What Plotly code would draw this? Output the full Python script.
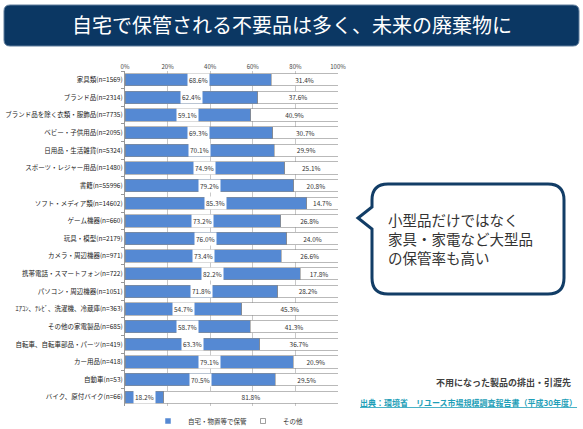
import plotly.graph_objects as go

categories = [
    "家具類(n=1569)", "ブランド品(n=2314)", "ブランド品を除く衣類・服飾品(n=7735)",
    "ベビー・子供用品(n=2095)", "日用品・生活雑貨(n=5324)", "スポーツ・レジャー用品(n=1480)",
    "書籍(n=55996)", "ソフト・メディア類(n=14602)", "ゲーム機器(n=660)", "玩具・模型(n=2179)",
    "カメラ・周辺機器(n=971)", "携帯電話・スマートフォン(n=722)", "パソコン・周辺機器(n=1051)",
    "ｴｱｺﾝ、ﾃﾚﾋﾞ、洗濯機、冷蔵庫(n=363)", "その他の家電製品(n=685)",
    "自転車、自転車部品・パーツ(n=419)", "カー用品(n=418)", "自動車(n=53)", "バイク、原付バイク(n=66)",
]
stored = [68.6, 62.4, 59.1, 69.3, 70.1, 74.9, 79.2, 85.3, 73.2, 76.0,
          73.4, 82.2, 71.8, 54.7, 58.7, 63.3, 79.1, 70.5, 18.2]
other = [31.4, 37.6, 40.9, 30.7, 29.9, 25.1, 20.8, 14.7, 26.8, 24.0,
         26.6, 17.8, 28.2, 45.3, 41.3, 36.7, 20.9, 29.5, 81.8]
series_names = ["自宅・物置等で保管", "その他"]
tick_vals = [0, 20, 40, 60, 80, 100]
tick_text = ["0%", "20%", "40%", "60%", "80%", "100%"]
title_text = "自宅で保管される不要品は多く、未来の廃棄物に"
callout_lines = ["小型品だけではなく", "家具・家電など大型品", "の保管率も高い"]
note_text = "不用になった製品の排出・引渡先"
source_text = "出典：環境省　リユース市場規模調査報告書（平成30年度）"

W, H = 583, 429
L, R, T, B = 125, 245, 71, 23
PW, PH = W - L - R, H - T - B

def px(x):
    return (x - L) / PW

def py(y):
    return (H - B - y) / PH

FONT = "Noto Sans CJK JP"
BLUE = "#5589d3"
EDGE = "#8a8a8a"

fig = go.Figure()
fig.add_trace(go.Bar(
    y=categories, x=stored, orientation="h", name=series_names[0], showlegend=False,
    marker=dict(color=BLUE, line=dict(color=EDGE, width=0.6)),
))
fig.add_trace(go.Bar(
    y=categories, x=other, orientation="h", name=series_names[1], showlegend=False,
    marker=dict(color="white", line=dict(color=EDGE, width=0.6)),
    text=[f"{v:.1f}%" for v in other], textposition="inside", constraintext="none",
    insidetextanchor="middle", textfont=dict(size=6.5, color="#333", family=FONT),
))
# legend entries (small square swatches like the original)
fig.add_trace(go.Scatter(x=[None], y=[None], mode="markers", name=series_names[0],
                         marker=dict(symbol="square", size=5, color=BLUE,
                                     line=dict(color=BLUE, width=0.5))))
fig.add_trace(go.Scatter(x=[None], y=[None], mode="markers", name=series_names[1],
                         marker=dict(symbol="square", size=5, color="white",
                                     line=dict(color="#777", width=0.7))))

annotations = []
for c, v in zip(categories, stored):
    annotations.append(dict(
        x=v / 2, y=c, xref="x", yref="y", text=f"{v:.1f}%", showarrow=False,
        font=dict(size=6.5, color="#333", family=FONT), bgcolor="white", borderpad=1,
    ))

annotations.append(dict(x=px(292), y=py(25), xref="paper", yref="paper",
                        xanchor="center", yanchor="middle",
                        text=title_text, showarrow=False,
                        font=dict(size=20, color="white", family=FONT)))
annotations.append(dict(x=px(386), y=py(238.5), xref="paper", yref="paper", xanchor="left",
                        yanchor="middle", align="left", text="<br>".join(callout_lines),
                        showarrow=False, font=dict(size=14.5, color="#333", family=FONT)))
annotations.append(dict(x=px(573), y=py(382), xref="paper", yref="paper", xanchor="right",
                        yanchor="middle", text=f"<b>{note_text}</b>", showarrow=False,
                        font=dict(size=9, color="#404040", family=FONT)))
annotations.append(dict(x=px(579), y=py(402), xref="paper", yref="paper", xanchor="right",
                        yanchor="middle", text=f"<b><u>{source_text}</u></b>",
                        showarrow=False, font=dict(size=8, color="#1e9fb8", family=FONT)))

def rrect(x0, y0, x1, y1, r):
    return (f"M {px(x0+r)} {py(y0)} L {px(x1-r)} {py(y0)} Q {px(x1)} {py(y0)} {px(x1)} {py(y0+r)} "
            f"L {px(x1)} {py(y1-r)} Q {px(x1)} {py(y1)} {px(x1-r)} {py(y1)} "
            f"L {px(x0+r)} {py(y1)} Q {px(x0)} {py(y1)} {px(x0)} {py(y1-r)} "
            f"L {px(x0)} {py(y0+r)} Q {px(x0)} {py(y0)} {px(x0+r)} {py(y0)} Z")

def callout(x0, y0, x1, y1, r, tipx, tipy, b0, b1):
    return (f"M {px(x0+r)} {py(y0)} L {px(x1-r)} {py(y0)} Q {px(x1)} {py(y0)} {px(x1)} {py(y0+r)} "
            f"L {px(x1)} {py(y1-r)} Q {px(x1)} {py(y1)} {px(x1-r)} {py(y1)} "
            f"L {px(x0+r)} {py(y1)} Q {px(x0)} {py(y1)} {px(x0)} {py(y1-r)} "
            f"L {px(x0)} {py(b1)} L {px(tipx)} {py(tipy)} L {px(x0)} {py(b0)} "
            f"L {px(x0)} {py(y0+r)} Q {px(x0)} {py(y0)} {px(x0+r)} {py(y0)} Z")

shapes = [
    dict(type="path", xref="paper", yref="paper", path=rrect(4, 5, 579, 46, 6),
         fillcolor="#0b3763", line=dict(color="#5f7d9c", width=1), layer="below"),
    dict(type="path", xref="paper", yref="paper",
         path=callout(372, 184, 564, 294, 16, 358, 218, 207, 229),
         fillcolor="white", line=dict(color="#123d66", width=3), layer="below"),
]

fig.update_layout(
    width=W, height=H, margin=dict(l=L, r=R, t=T, b=B, autoexpand=False),
    barmode="stack", bargap=0.3,
    paper_bgcolor="white", plot_bgcolor="rgba(0,0,0,0)",
    font=dict(family=FONT, size=7, color="#333"),
    showlegend=True,
    legend=dict(orientation="h", x=px(148), y=py(421), xanchor="left", yanchor="middle",
                font=dict(size=6.5, color="#333", family=FONT), traceorder="normal",
                itemwidth=30, itemsizing="trace", entrywidth=50, entrywidthmode="pixels",
                bgcolor="rgba(0,0,0,0)"),
    annotations=annotations, shapes=shapes,
    xaxis=dict(range=[0, 100], side="top", tickvals=tick_vals, ticktext=tick_text,
               showgrid=True, gridcolor="#c8c8c8", gridwidth=1, zeroline=False,
               tickfont=dict(size=6, color="#444"), ticks="", automargin=False,
               showline=False),
    yaxis=dict(autorange="reversed", type="category", tickson="boundaries", ticks="outside",
               ticklen=3, tickcolor="#999", showline=True, linecolor="#999",
               tickfont=dict(size=6.5, color="#222"), showgrid=False, automargin=False),
)

fig.write_html("out.html", config={"displayModeBar": False},
               post_script="document.body.style.margin='0px';")
